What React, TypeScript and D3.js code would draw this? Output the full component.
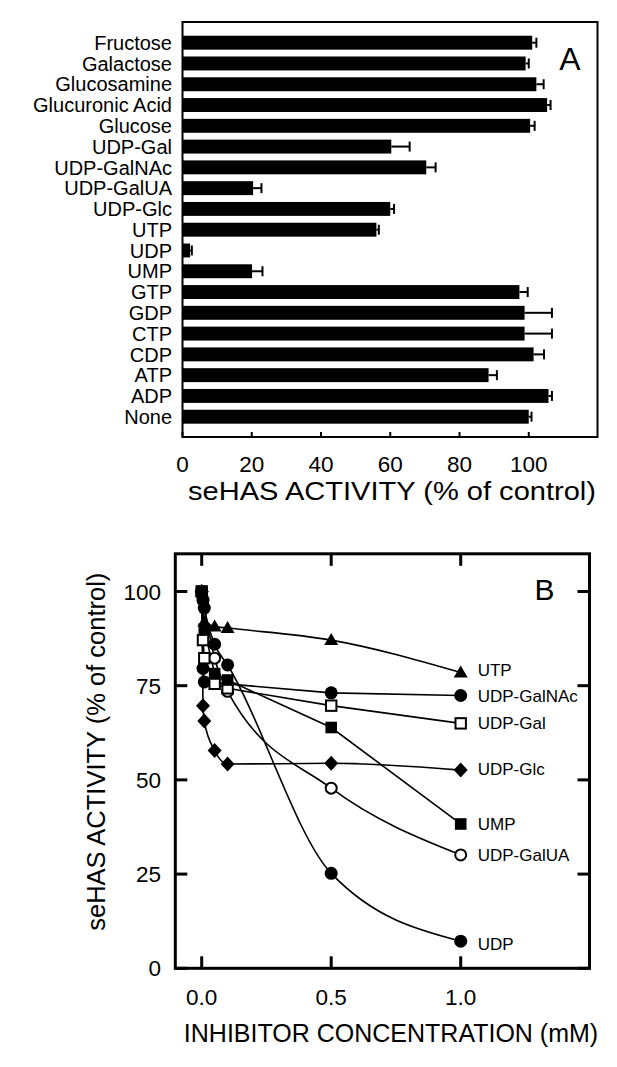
import React from 'react';
import * as d3 from 'd3';

const FONT = '"Liberation Sans", Arial, Helvetica, sans-serif';

// ---------- Panel A data ----------
const compounds = [
  'Fructose', 'Galactose', 'Glucosamine', 'Glucuronic Acid', 'Glucose',
  'UDP-Gal', 'UDP-GalNAc', 'UDP-GalUA', 'UDP-Glc', 'UTP', 'UDP', 'UMP',
  'GTP', 'GDP', 'CTP', 'CDP', 'ATP', 'ADP', 'None',
];
const activity = [101.0, 99.1, 102.2, 105.3, 100.4, 60.3, 70.4, 20.4, 60.0, 56.0, 2.2, 20.1, 97.3, 98.8, 98.8, 101.4, 88.4, 105.7, 100.0];
const activityErr = [1.2, 0.9, 2.1, 1.0, 1.3, 5.3, 2.7, 2.4, 1.1, 0.7, 0.5, 3.0, 2.4, 7.9, 7.9, 3.0, 2.4, 1.0, 0.8];
const xTicksA = [0, 20, 40, 60, 80, 100];

// ---------- Panel B data ----------
const utpConc = [0, 0.01, 0.05, 0.1, 0.5, 1.0];
const utpAct = [100, 92, 90.7, 90.3, 87.1, 78.5];
const udpGalNAcConc = [0, 0.005, 0.01, 0.5, 1.0];
const udpGalNAcAct = [100, 79.6, 76, 73.1, 72.4];
const udpGalConc = [0, 0.005, 0.01, 0.05, 0.1, 0.5, 1.0];
const udpGalAct = [100, 87.1, 82.3, 75.5, 74.3, 69.7, 65.0];
const udpGlcConc = [0, 0.005, 0.01, 0.05, 0.1, 0.5, 1.0];
const udpGlcAct = [100, 69.7, 65.6, 57.8, 54.2, 54.4, 52.6];
const umpConc = [0, 0.01, 0.05, 0.1, 0.5, 1.0];
const umpAct = [100, 90, 78.2, 76.5, 63.9, 38.3];
const udpGalUAConc = [0, 0.05, 0.1, 0.5, 1.0];
const udpGalUAAct = [100, 82.3, 73.5, 47.8, 30.1];
const udpConc = [0, 0.005, 0.01, 0.05, 0.1, 0.5, 1.0];
const udpAct = [100, 97.7, 95.6, 86, 80.5, 25.2, 7.2];
const xTicksB = [0, 0.5, 1.0];
const yTicksB = [0, 25, 50, 75, 100];

type Marker = 'triangle' | 'circle' | 'openSquare' | 'diamond' | 'square' | 'openCircle';
interface Series { name: string; conc: number[]; act: number[]; marker: Marker; smooth: boolean; labelDy: number; }
const series: Series[] = [
  { name: 'UTP', conc: utpConc, act: utpAct, marker: 'triangle', smooth: true, labelDy: -3 },
  { name: 'UDP-GalNAc', conc: udpGalNAcConc, act: udpGalNAcAct, marker: 'circle', smooth: false, labelDy: 0 },
  { name: 'UDP-GalUA', conc: udpGalUAConc, act: udpGalUAAct, marker: 'openCircle', smooth: true, labelDy: 0 },
  { name: 'UDP-Gal', conc: udpGalConc, act: udpGalAct, marker: 'openSquare', smooth: false, labelDy: 0 },
  { name: 'UDP-Glc', conc: udpGlcConc, act: udpGlcAct, marker: 'diamond', smooth: true, labelDy: -1 },
  { name: 'UMP', conc: umpConc, act: umpAct, marker: 'square', smooth: false, labelDy: 0 },
  { name: 'UDP', conc: udpConc, act: udpAct, marker: 'circle', smooth: true, labelDy: 3 },
];

function MarkerShape({ type, x, y }: { type: Marker; x: number; y: number }) {
  switch (type) {
    case 'triangle':
      return <polygon points={`${x},${y - 7} ${x - 7},${y + 5} ${x + 7},${y + 5}`} fill="#000" />;
    case 'circle':
      return <circle cx={x} cy={y} r={6.5} fill="#000" />;
    case 'openCircle':
      return <circle cx={x} cy={y} r={5.5} fill="#fff" stroke="#000" strokeWidth={2} />;
    case 'square':
      return <rect x={x - 5.8} y={y - 5.8} width={11.6} height={11.6} fill="#000" />;
    case 'openSquare':
      return <rect x={x - 5.2} y={y - 5.2} width={10.4} height={10.4} fill="#fff" stroke="#000" strokeWidth={2} />;
    case 'diamond':
      return <polygon points={`${x},${y - 7.5} ${x + 7},${y} ${x},${y + 7.5} ${x - 7},${y}`} fill="#000" />;
  }
  return null;
}

export default function App() {
  const W = 617, H = 1067;

  // ---- Panel A scales ----
  const xA = d3.scaleLinear().domain([0, 120]).range([182.5, 598]);
  const yA = d3.scaleBand<string>().domain(compounds).range([32.3, 427.1]).paddingInner(0.33).paddingOuter(0.165);
  const frameA = { x0: 182.5, x1: 597.5, y0: 22, y1: 437 };

  // ---- Panel B scales ----
  const xB = d3.scaleLinear().domain([-0.1, 1.5]).range([175.8, 590.2]);
  const yB = d3.scaleLinear().domain([0, 110]).range([968.3, 553.8]);
  const frameB = { x0: 175.3, x1: 589.5, y0: 553.8, y1: 968.3 };

  const lineLinear = d3.line<[number, number]>().x(d => xB(d[0])).y(d => yB(d[1]));
  const lineSmooth = d3.line<[number, number]>().x(d => xB(d[0])).y(d => yB(d[1])).curve(d3.curveMonotoneX);

  return (
    <svg width={W} height={H} style={{ position: 'absolute', left: 0, top: 0, background: '#fff' }} fontFamily={FONT}>
      <rect x={0} y={0} width={W} height={H} fill="#fff" />
      {/* ================= Panel A ================= */}
      <g>
        {compounds.map((c, i) => {
          const y = yA(c)!;
          const bw = yA.bandwidth();
          const cy = y + bw / 2;
          const xe = xA(activity[i]);
          const xr = xA(activity[i] + activityErr[i]);
          return (
            <g key={c}>
              <rect x={xA(0)} y={y} width={xe - xA(0)} height={bw} fill="#000" />
              <line x1={xe} x2={xr} y1={cy} y2={cy} stroke="#000" strokeWidth={2} />
              <line x1={xr} x2={xr} y1={cy - 5} y2={cy + 5} stroke="#000" strokeWidth={2} />
              <text x={172} y={cy} dy="0.36em" textAnchor="end" fontSize={20} fill="#000">{c}</text>
            </g>
          );
        })}
        <rect x={frameA.x0} y={frameA.y0} width={frameA.x1 - frameA.x0} height={frameA.y1 - frameA.y0}
          fill="none" stroke="#000" strokeWidth={2} />
        {xTicksA.map(t => (
          <g key={t}>
            <line x1={xA(t)} x2={xA(t)} y1={frameA.y1} y2={frameA.y1 - 5} stroke="#000" strokeWidth={2} />
            <text x={xA(t)} y={472} textAnchor="middle" fontSize={22.5} fill="#000">{t}</text>
          </g>
        ))}
        <text x={392} y={500} textAnchor="middle" fontSize={26} textLength={408} lengthAdjust="spacingAndGlyphs" fill="#000">
          seHAS ACTIVITY (% of control)
        </text>
        <text x={570} y={70} textAnchor="middle" fontSize={32} fill="#000">A</text>
      </g>

      {/* ================= Panel B ================= */}
      <g>
        {series.map(s => {
          const pts = s.conc.map((c, i) => [c, s.act[i]] as [number, number]);
          const gen = s.smooth ? lineSmooth : lineLinear;
          return <path key={s.name + '-line'} d={gen(pts) || ''} fill="none" stroke="#000" strokeWidth={1.6} />;
        })}
        {series.map(s => (
          <g key={s.name + '-pts'}>
            {s.conc.map((c, i) => (
              <MarkerShape key={i} type={s.marker} x={xB(c)} y={yB(s.act[i])} />
            ))}
          </g>
        ))}
        {series.map(s => {
          const last = s.conc.length - 1;
          return (
            <text key={s.name + '-lbl'} x={xB(s.conc[last]) + 17} y={yB(s.act[last]) + s.labelDy} dy="0.36em"
              fontSize={17} fill="#000">{s.name}</text>
          );
        })}
        <rect x={frameB.x0} y={frameB.y0} width={frameB.x1 - frameB.x0} height={frameB.y1 - frameB.y0}
          fill="none" stroke="#000" strokeWidth={3} />
        {xTicksB.map(t => (
          <g key={t}>
            <line x1={xB(t)} x2={xB(t)} y1={frameB.y1} y2={frameB.y1 - 12} stroke="#000" strokeWidth={3} />
            <line x1={xB(t)} x2={xB(t)} y1={frameB.y0} y2={frameB.y0 + 12} stroke="#000" strokeWidth={3} />
            <text x={xB(t)} y={1005} textAnchor="middle" fontSize={22.5} fill="#000">{d3.format('.1f')(t)}</text>
          </g>
        ))}
        {yTicksB.map(t => (
          <g key={t}>
            <line x1={frameB.x0} x2={frameB.x0 + 12} y1={yB(t)} y2={yB(t)} stroke="#000" strokeWidth={3} />
            <line x1={frameB.x1} x2={frameB.x1 - 12} y1={yB(t)} y2={yB(t)} stroke="#000" strokeWidth={3} />
            <text x={161} y={yB(t)} dy="0.36em" textAnchor="end" fontSize={22.5} fill="#000">{t}</text>
          </g>
        ))}
        <text x={391} y={1042} textAnchor="middle" fontSize={25} fill="#000">INHIBITOR CONCENTRATION (mM)</text>
        <text transform={`translate(105,751.7) rotate(-90)`} textAnchor="middle" fontSize={25.5} fill="#000">
          seHAS ACTIVITY (% of control)
        </text>
        <text x={544.5} y={600} textAnchor="middle" fontSize={30} fill="#000">B</text>
      </g>
    </svg>
  );
}
